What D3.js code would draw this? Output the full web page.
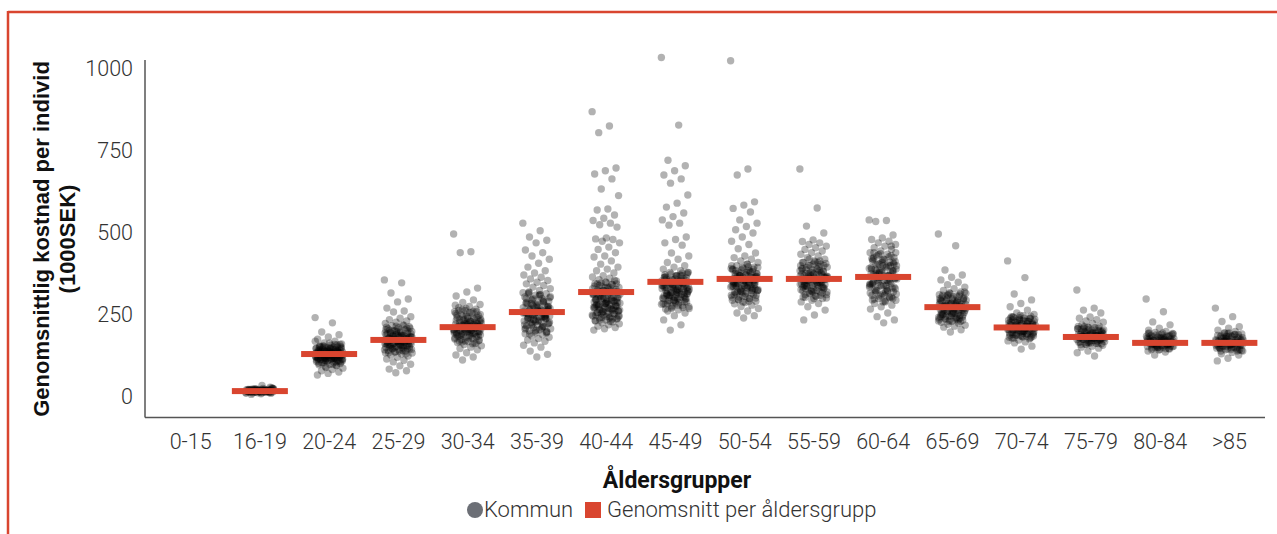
<!DOCTYPE html>
<html>
<head>
<meta charset="utf-8">
<script src="https://cdn.jsdelivr.net/npm/d3@7"></script>
<style>
  body { margin: 0; background: #fff; }
  svg { display: block; }
</style>
</head>
<body>
<div id="chart"></div>
<script>
// age groups on the x axis
var ageGroups = ["0-15", "16-19", "20-24", "25-29", "30-34", "35-39", "40-44", "45-49",
  "50-54", "55-59", "60-64", "65-69", "70-74", "75-79", "80-84", ">85"];

// mean per age group (1000 SEK)
var groupMeans = [null, 18, 131, 174, 213, 259, 320, 351, 360, 360, 366, 274, 212, 183, 165, 165];

var yTicks = [0, 250, 500, 750, 1000];

// per-municipality values (1000 SEK), estimated from the dots
var kommun_16_19 = [12,15,18,20,22,17,14,25,19,21,16,23,13,18,20,24,11,19,22,17,15,26,21,18,14,20,23,16,19,28,10,21,17,24,13,19,22,30,18,15,20,16,25,35,8,21,19,17,23,14,
  14,16,18,20,22,24,26,12,15,17,19,21,23,25,13,16,18,20,22,19,17,21,15,23,18,20,16,22,24,19];
var kommun_20_24 = [242,226,198,190,183,176,170,165,162,158,155,152,150,148,146,145,143,141,140,139,138,137,136,135,134,133,132,131,130,129,128,127,126,125,124,123,122,121,120,119,118,117,116,115,114,112,110,108,106,104,102,100,98,95,92,88,84,80,76,72,67,160,155,150,147,144,142,138,134,131,128,125,122,119,116,113,110,135,140,130,126,121,117,112,107,148,152,97,90,170,
  100,104,108,112,116,120,124,128,132,136,140,144,148,152,156,160,164,103,107,111,115,119,123,127,131,135,139,143,147,151,155,159,118,122,126,130,134,138,142,146,121,125,129,133,137,141,113,117,150,154];
var kommun_25_29 = [357,348,317,299,290,271,262,259,245,240,236,232,228,224,220,217,214,211,208,205,202,200,198,196,194,192,190,188,186,184,182,180,178,176,175,174,173,172,170,168,166,164,162,160,158,156,154,152,150,148,146,144,142,140,137,134,131,128,125,121,116,112,107,100,95,85,80,74,195,185,178,170,165,160,155,150,145,188,182,176,169,163,157,201,210,140,135,
  132,138,144,150,156,162,168,174,180,186,192,198,204,210,216,135,141,147,153,159,165,171,177,183,189,195,201,207,213,219,160,166,172,178,184,190,163,169,175,181,187,193,170,176,182,158,152,146,199,205];
var kommun_30_34 = [497,443,440,332,320,308,296,288,282,276,272,268,264,260,256,252,248,245,242,239,236,233,230,228,226,224,222,220,218,216,214,212,210,208,206,204,202,200,198,196,194,192,190,188,186,184,182,180,178,175,172,169,166,163,160,156,152,148,144,135,128,122,113,230,225,215,210,205,200,195,190,185,240,250,220,212,207,199,170,260,270,280,
  162,168,174,180,186,192,198,204,210,216,222,228,234,240,246,252,258,264,165,171,177,183,189,195,201,207,213,219,225,231,237,243,249,255,261,267,200,206,212,218,224,196,202,208,214,220,190,226,232,238];
var kommun_35_39 = [530,507,488,478,470,448,440,430,420,408,396,385,378,372,365,360,355,350,345,340,335,330,325,320,315,310,305,300,296,292,288,284,280,276,272,268,265,262,259,256,253,250,247,244,241,238,235,232,229,226,223,220,217,214,211,208,205,202,199,196,193,190,186,182,178,174,170,165,158,152,140,130,122,300,290,280,270,260,250,240,230,220,210,285,275,265,255,245,235,318,312,
  192,198,204,210,216,222,228,234,240,246,252,258,264,270,276,282,288,294,300,306,312,318,195,201,207,213,219,225,231,237,243,249,255,261,267,273,279,285,291,297,303,309,315,250,256,262,244,238,268,274];
var kommun_40_44 = [870,826,806,698,690,680,665,634,614,573,570,555,545,538,530,525,518,485,482,480,475,470,457,450,440,430,427,415,405,396,390,385,378,370,366,362,358,354,350,346,342,338,334,330,326,322,318,314,310,306,302,298,295,292,289,286,283,280,277,274,271,268,265,262,259,256,253,250,247,244,241,238,235,232,229,226,223,220,216,212,208,204,300,310,320,290,280,270,260,250,240,305,295,285,275,265,255,245,335,345,355,325,315,
  230,235,240,245,250,255,260,265,270,275,280,285,290,295,300,305,310,315,320,325,330,335,340,345,350,233,238,243,248,253,258,263,268,273,278,283,288,293,298,303,308,313,318,323,328,333,338,343,348,262,272,282,292,302,312,322,267,277,287,297];
var kommun_45_49 = [1035,829,722,705,690,677,665,652,616,591,579,561,550,540,530,524,488,480,470,463,439,430,420,410,400,396,390,385,380,375,370,366,362,358,354,350,346,342,338,334,330,326,322,318,314,310,306,302,298,294,290,286,282,278,274,270,266,262,256,248,235,220,204,380,370,360,350,340,330,320,310,300,290,365,355,345,335,325,315,305,295,285,372,352,332,312,
  268,273,278,283,288,293,298,303,308,313,318,323,328,333,338,343,348,353,358,363,368,373,378,270,275,280,285,290,295,300,305,310,315,320,325,330,335,340,345,350,355,360,365,370,375,380,300,310,320,330,340,350,305,315,325,335,345,318,328,338];
var kommun_50_54 = [1025,695,677,595,585,575,564,540,530,520,510,500,488,475,465,452,439,430,425,420,415,410,405,400,396,392,388,384,380,376,372,368,364,360,356,352,348,344,340,336,332,328,324,320,316,312,308,304,300,296,292,288,284,280,276,270,262,256,248,241,390,380,370,360,350,340,330,320,310,385,375,365,355,345,335,325,395,405,362,352,
  290,295,300,305,310,315,320,325,330,335,340,345,350,355,360,365,370,375,380,385,390,395,400,292,297,302,307,312,317,322,327,332,337,342,347,352,357,362,367,372,377,382,387,392,397,320,330,340,350,360,370,325,335,345,355,365,338,348,358,368];
var kommun_55_59 = [695,576,521,500,479,474,470,465,460,455,450,445,440,435,430,425,420,415,410,405,400,396,392,388,384,380,376,372,368,364,360,356,352,348,344,340,336,332,328,324,320,316,312,308,304,300,295,290,285,275,265,250,235,380,370,360,350,340,330,320,390,385,375,365,355,345,335,325,400,410,362,358,
  300,305,310,315,320,325,330,335,340,345,350,355,360,365,370,375,380,385,390,395,400,405,410,415,420,302,307,312,317,322,327,332,337,342,347,352,357,362,367,372,377,382,387,392,397,402,407,412,340,350,360,370,345,355,365,375,335,348,358,368];
var kommun_60_64 = [540,538,535,494,485,480,475,470,465,460,455,450,445,440,435,430,425,420,415,410,405,400,395,390,385,380,375,370,365,360,355,350,345,340,335,330,325,320,315,310,305,300,295,290,285,280,275,268,256,245,235,226,420,400,380,360,340,320,300,410,390,370,350,330,310,440,460,365,345,325,385,405,
  290,296,302,308,314,320,326,332,338,344,350,356,362,368,374,380,386,392,398,404,410,416,422,428,434,440,293,299,305,311,317,323,329,335,341,347,353,359,365,371,377,383,389,395,401,407,413,419,425,431,437,340,355,370,385,400,345,360,375,390];
var kommun_65_69 = [497,461,387,372,365,357,350,342,335,330,325,320,316,312,308,304,300,296,292,288,285,282,279,276,273,270,267,264,261,258,255,252,249,246,243,240,237,234,231,228,225,222,219,216,213,205,198,300,290,280,270,260,250,240,230,295,285,275,265,255,245,235,310,320,272,262,
  230,234,238,242,246,250,254,258,262,266,270,274,278,282,286,290,294,298,302,306,310,314,318,232,236,240,244,248,252,256,260,264,268,272,276,280,284,288,292,296,300,304,308,312,316,255,265,275,285,295];
var kommun_70_74 = [415,364,314,296,285,275,265,256,252,248,244,240,237,234,231,228,225,222,219,216,213,210,207,204,201,198,195,192,189,186,183,180,177,174,171,168,165,155,146,240,230,220,210,200,190,180,235,225,215,205,195,185,245,212,208,218,202,
  180,183,186,189,192,195,198,201,204,207,210,213,216,219,222,225,228,231,234,237,240,243,246,249,182,185,188,191,194,197,200,203,206,209,212,215,218,221,224,227,230,233,236,239,242,205,210,215,220,200];
var kommun_75_79 = [326,271,265,256,244,240,236,232,228,224,220,216,212,208,204,200,197,194,191,188,185,182,179,176,173,170,167,164,161,158,155,152,149,140,135,125,210,200,190,180,170,160,205,195,185,175,165,215,188,182,178,172,
  160,163,166,169,172,175,178,181,184,187,190,193,196,199,202,205,208,211,214,162,165,168,171,174,177,180,183,186,189,192,195,198,201,204,207,210,213,175,180,185,190,178,183,188,193];
var kommun_80_84 = [299,260,229,220,210,204,200,197,194,191,188,185,182,179,176,173,170,167,164,161,158,155,152,149,146,143,140,137,128,190,180,170,160,150,185,175,165,155,145,195,168,162,172,158,
  145,148,151,154,157,160,163,166,169,172,175,178,181,184,187,190,193,147,150,153,156,159,162,165,168,171,174,177,180,183,186,189,192,195,160,165,170,175,180,163,168,173,178,158,155];
var kommun_85 = [271,245,230,214,210,204,200,196,192,188,184,180,176,172,168,164,160,156,152,148,144,140,136,132,128,118,110,190,180,170,160,150,140,185,175,165,155,145,195,168,162,172,158,150,
  140,143,146,149,152,155,158,161,164,167,170,173,176,179,182,185,188,191,194,142,145,148,151,154,157,160,163,166,169,172,175,178,181,184,187,190,193,160,165,170,175,158,163,168,173];

var kommunByGroup = [[], kommun_16_19, kommun_20_24, kommun_25_29, kommun_30_34, kommun_35_39,
  kommun_40_44, kommun_45_49, kommun_50_54, kommun_55_59, kommun_60_64, kommun_65_69,
  kommun_70_74, kommun_75_79, kommun_80_84, kommun_85];

var red = "#d9452f";
var W = 1277, H = 534;
var lightFont = "Roboto";

var svg = d3.select("#chart").append("svg")
  .attr("width", W)
  .attr("height", H);

// red frame (top and left edge)
svg.append("line")
  .attr("x1", 8).attr("x2", W).attr("y1", 12).attr("y2", 12)
  .attr("stroke", red).attr("stroke-width", 2.5);
svg.append("line")
  .attr("x1", 8).attr("x2", 8).attr("y1", 11).attr("y2", H)
  .attr("stroke", red).attr("stroke-width", 2.5);

var xScale = d3.scaleBand()
  .domain(ageGroups)
  .range([156, 1264]);

var yScale = d3.scaleLinear()
  .domain([0, 1000])
  .range([397, 69]);

var axisLeftX = 145, axisBottomY = 417.5;

// axis lines
svg.append("line")
  .attr("x1", axisLeftX).attr("x2", axisLeftX)
  .attr("y1", 60).attr("y2", axisBottomY)
  .attr("stroke", "#555").attr("stroke-width", 1.5);
svg.append("line")
  .attr("x1", axisLeftX).attr("x2", 1265)
  .attr("y1", axisBottomY).attr("y2", axisBottomY)
  .attr("stroke", "#555").attr("stroke-width", 1.5);

// y tick labels
var yAxis = d3.axisLeft(yScale)
  .tickValues(yTicks)
  .tickFormat(d3.format("d"))
  .tickSize(0)
  .tickPadding(0);
var gy = svg.append("g")
  .attr("class", "y-axis axis")
  .attr("transform", "translate(133,0)")
  .call(yAxis);
gy.select(".domain").remove();
gy.selectAll("text")
  .attr("font-family", lightFont)
  .attr("font-weight", 300)
  .attr("font-size", 21.5)
  .attr("fill", "#333");

// x tick labels
var xAxis = d3.axisBottom(xScale)
  .tickSize(0)
  .tickPadding(0);
var gx = svg.append("g")
  .attr("class", "x-axis axis")
  .attr("transform", "translate(0,434)")
  .call(xAxis);
gx.select(".domain").remove();
gx.selectAll("text")
  .attr("font-family", lightFont)
  .attr("font-weight", 300)
  .attr("font-size", 21.5)
  .attr("fill", "#333");

// y axis title
var yTitle = svg.append("text")
  .attr("transform", "translate(0,239) rotate(-90)")
  .attr("text-anchor", "middle")
  .attr("font-family", "Liberation Sans, Arial")
  .attr("font-weight", "bold")
  .attr("font-size", 22)
  .attr("fill", "#111");
yTitle.append("tspan").attr("x", 0).attr("y", 49).text("Genomsnittlig kostnad per individ");
yTitle.append("tspan").attr("x", 0).attr("y", 75).text("(1000SEK)");

// x axis title
svg.append("text")
  .attr("x", 677)
  .attr("y", 488)
  .attr("text-anchor", "middle")
  .attr("font-family", "Roboto")
  .attr("font-weight", "bold")
  .attr("font-size", 23)
  .attr("fill", "#111")
  .text("Åldersgrupper");

// dots, spread sideways inside each group
var points = [];
kommunByGroup.forEach(function(vals, gi) {
  vals.forEach(function(v, i) {
    points.push({ group: ageGroups[gi], value: v, idx: i });
  });
});

var jitterWidth = 28;
svg.append("g")
  .selectAll(".kommun")
  .data(points)
  .enter()
  .append("circle")
  .attr("class", "kommun")
  .attr("cx", function(d) {
    var frac = (d.idx * 0.6180339887) % 1;
    return xScale(d.group) + xScale.bandwidth() / 2 + (frac - 0.5) * jitterWidth;
  })
  .attr("cy", function(d) { return yScale(d.value); })
  .attr("r", 3.7)
  .attr("fill", "#000")
  .attr("fill-opacity", 0.3);

// mean bars
var meanData = ageGroups.map(function(g, i) {
  return { group: g, mean: groupMeans[i] };
}).filter(function(d) { return d.mean !== null; });

svg.append("g")
  .selectAll(".mean")
  .data(meanData)
  .enter()
  .append("rect")
  .attr("class", "mean")
  .attr("x", function(d) { return xScale(d.group) + xScale.bandwidth() / 2 - 28; })
  .attr("y", function(d) { return yScale(d.mean) - 3; })
  .attr("width", 56)
  .attr("height", 6)
  .attr("fill", red);

// legend
var legend = svg.append("g").attr("class", "legend");
legend.append("circle")
  .attr("cx", 475).attr("cy", 510).attr("r", 8)
  .attr("fill", "#6c6f76");
legend.append("text")
  .attr("x", 484).attr("y", 517)
  .attr("font-family", lightFont).attr("font-weight", 300)
  .attr("font-size", 22).attr("fill", "#333")
  .text("Kommun");
legend.append("rect")
  .attr("x", 585).attr("y", 502).attr("width", 16).attr("height", 16)
  .attr("fill", red);
legend.append("text")
  .attr("x", 607).attr("y", 517)
  .attr("font-family", lightFont).attr("font-weight", 300)
  .attr("font-size", 22).attr("fill", "#333")
  .text("Genomsnitt per åldersgrupp");
</script>
</body>
</html>
